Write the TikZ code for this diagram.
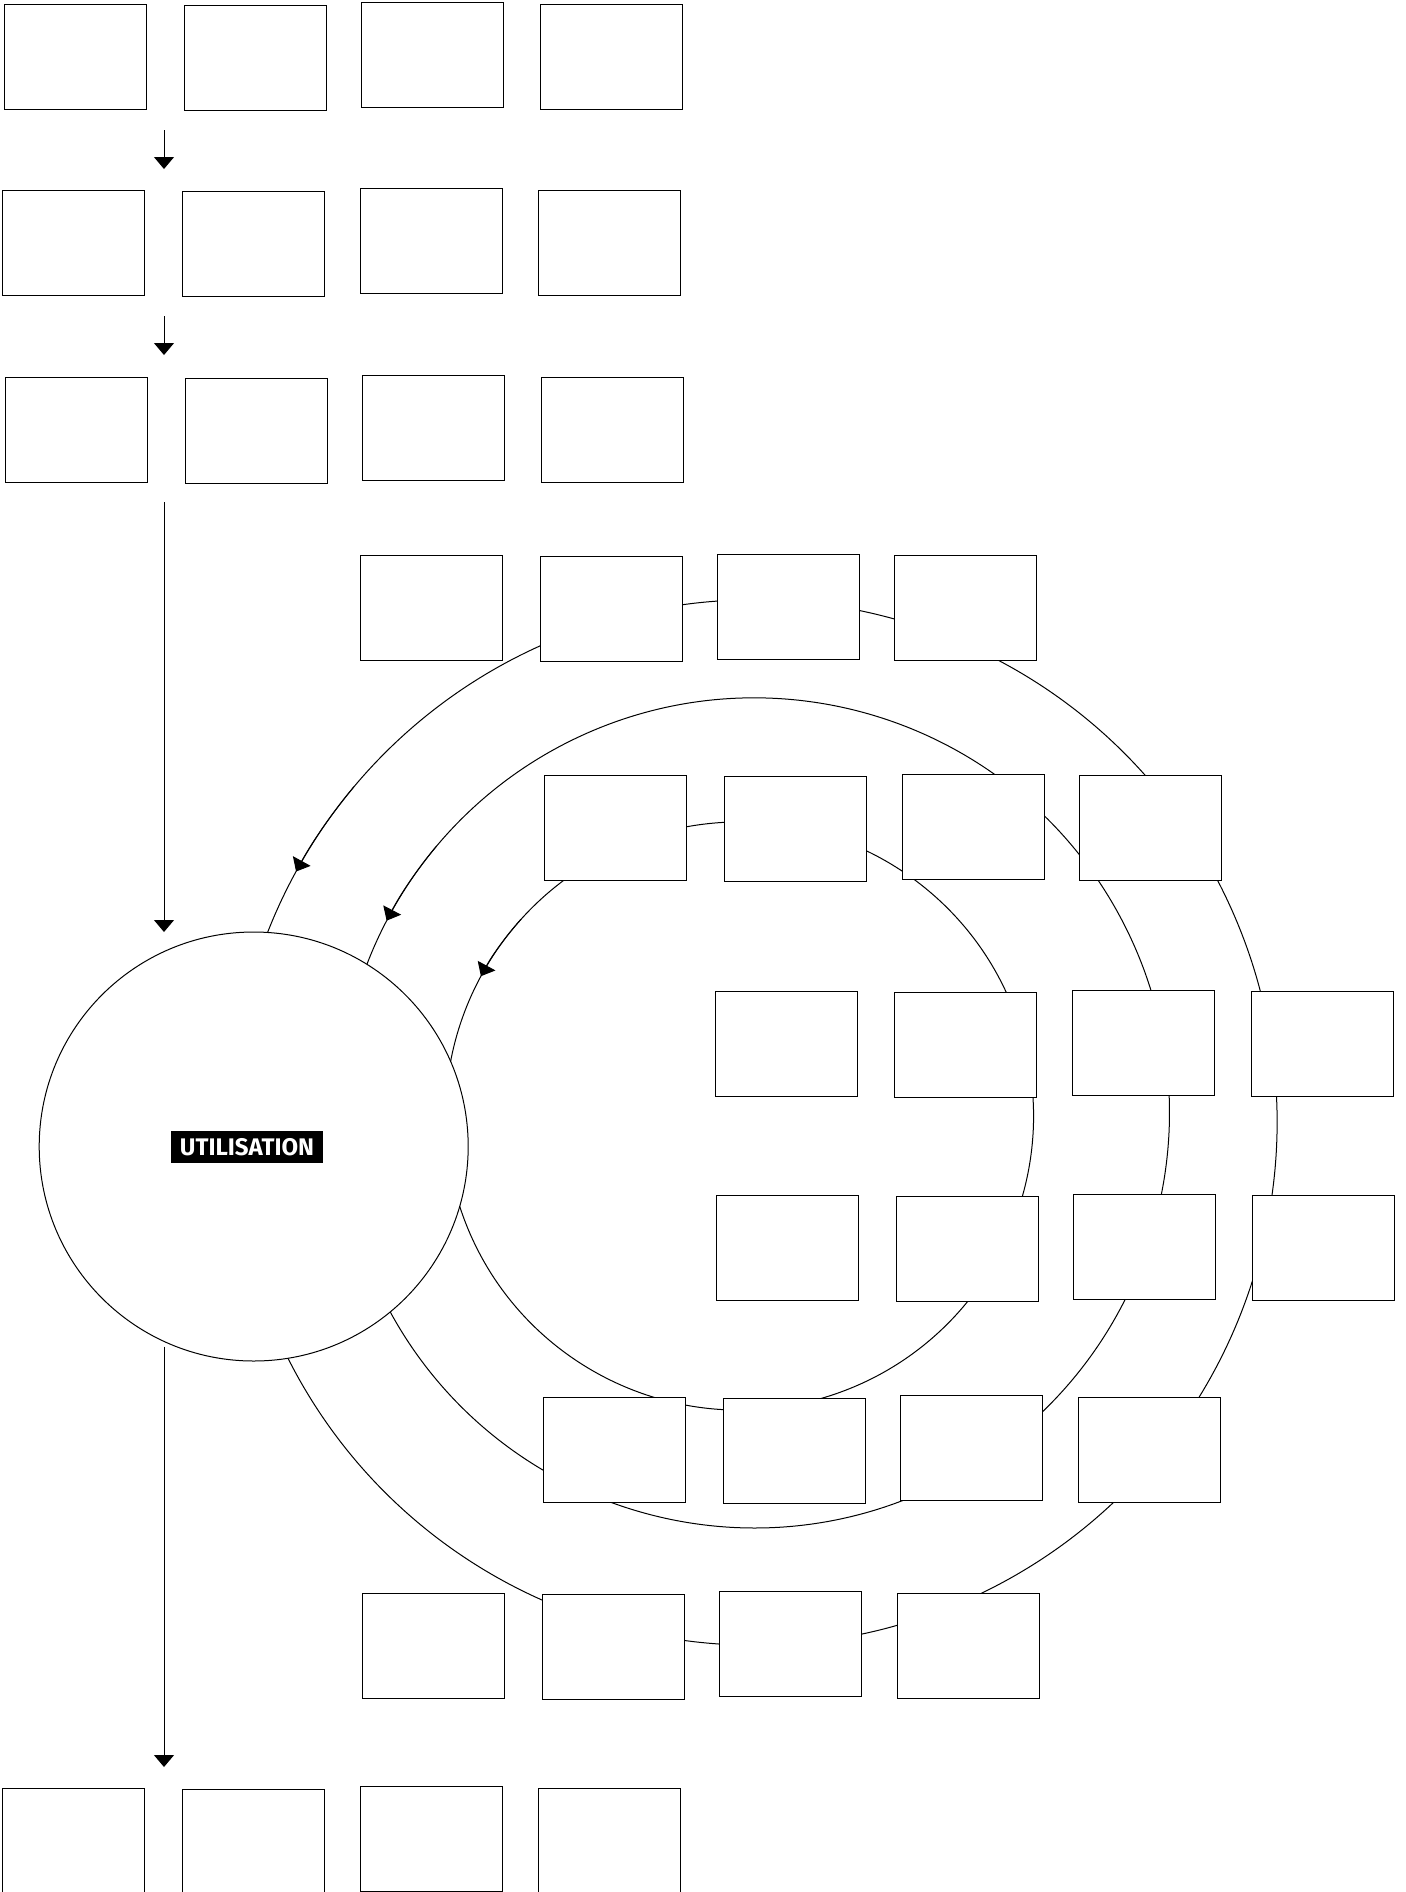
\documentclass[tikz,border=0pt]{standalone}
\usepackage{fontspec}
\newfontfamily\labelfont{Fira Sans}
\usetikzlibrary{arrows.meta}
\tikzset{
  box/.style={draw=black, fill=white, line width=0.5pt, minimum width=71pt, minimum height=52.5pt, inner sep=0pt, anchor=north west},
  flow/.style={draw=black, line width=0.5pt, -{Triangle[length=6pt,width=10pt]}},
  ring/.style={draw=black, line width=0.5pt},
}
\begin{document}
\begin{tikzpicture}[x=0.5pt,y=0.5pt]
\fill[white] (0,0) rectangle (1405,-1892);
\useasboundingbox (0,0) rectangle (1405,-1892);

% cycle arcs (centres)
\coordinate (co) at (754.4,-1122.5);
\coordinate (cm) at (754.4,-1112.9);
\coordinate (ci) at (739.5,-1116);

% outer ring
\draw[ring] (co) ++(-155:261.3pt) arc[start angle=-155, end angle=151.3, radius=261.3pt];
\draw[flow] (co) ++(140:261.3pt) arc[start angle=140, end angle=151.3, radius=261.3pt];
\draw[ring] (co) ++(151.3:261.3pt) arc[start angle=151.3, end angle=160, radius=261.3pt];
% middle ring
\draw[ring] (cm) ++(-153:207.5pt) arc[start angle=-153, end angle=152.4, radius=207.5pt];
\draw[flow] (cm) ++(140:207.5pt) arc[start angle=140, end angle=152.4, radius=207.5pt];
\draw[ring] (cm) ++(152.4:207.5pt) arc[start angle=152.4, end angle=161, radius=207.5pt];
% inner ring
\draw[ring] (ci) ++(-164:147pt) arc[start angle=-164, end angle=151.6, radius=147pt];
\draw[flow] (ci) ++(138:147pt) arc[start angle=138, end angle=151.6, radius=147pt];
\draw[ring] (ci) ++(151.6:147pt) arc[start angle=151.6, end angle=171, radius=147pt];

% central circle
\node[circle, draw=black, fill=white, line width=0.5pt, minimum size=214.5pt, inner sep=0pt] (util) at (253.7,-1146.5) {};
\node[fill=black, text=white, font=\labelfont\bfseries\fontsize{12}{14}\selectfont,
      inner xsep=4.3pt, inner ysep=3.8pt, text height=8.35pt, text depth=0pt] (lbl) at (247,-1147) {UTILISATION};

% boxes
\foreach \bx/\by [count=\i] in {
  3.6/3.6, 183.5/4.8, 360.9/2.4, 539.5/3.6,
  2.4/189.5, 182.3/190.7, 359.7/188.3, 538.3/189.5,
  4.8/376.6, 184.7/377.8, 362.1/375.4, 540.7/376.6,
  359.7/555.2, 539.5/556.4, 717/554, 894.4/555.2,
  544.4/774.9, 724.2/776.1, 901.6/773.7, 1079.1/774.9,
  714.5/990.9, 894.4/992.2, 1071.8/989.7, 1250.5/990.9,
  715.8/1194.9, 895.6/1196.1, 1073/1193.7, 1251.7/1194.9,
  543.2/1396.5, 723/1397.7, 900.4/1395.3, 1077.9/1396.5,
  362.1/1593.2, 541.9/1594.4, 719.4/1590.8, 896.8/1593.2,
  2.4/1787.6, 182.3/1788.8, 359.7/1786.4, 538.3/1787.6}
  \node[box] (b\i) at (\bx,-\by) {};

% vertical flow arrows
\coordinate (a1s) at (164,-130.4);  \coordinate (a1e) at (164,-169);
\coordinate (a2s) at (164,-316.2);  \coordinate (a2e) at (164,-355);
\coordinate (a3s) at (164,-502);    \coordinate (a3e) at (164,-932);
\coordinate (a4s) at (164,-1346.7); \coordinate (a4e) at (164,-1767);
\draw[flow] (a1s) -- (a1e);
\draw[flow] (a2s) -- (a2e);
\draw[flow] (a3s) -- (a3e);
\draw[flow] (a4s) -- (a4e);
\end{tikzpicture}
\end{document}
